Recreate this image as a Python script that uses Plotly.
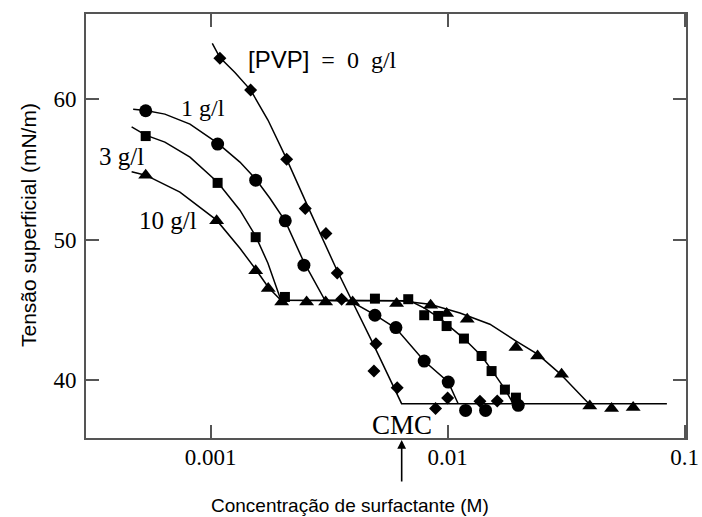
import math
import plotly.graph_objects as go

# ---------------- data ----------------
# measured points, [PVP] = 0 g/l (diamonds)
pvp0_x = [0.001094, 0.001475, 0.002093, 0.002507, 0.003066, 0.003421, 0.003571,
          0.004984, 0.004887, 0.006127, 0.008897, 0.0100, 0.01369, 0.01620]
pvp0_y = [62.90, 60.64, 55.73, 52.22, 50.44, 47.64, 45.77,
          42.61, 40.66, 39.48, 37.99, 38.74, 38.51, 38.53]

# 1 g/l (circles)
pvp1_x = [0.000532, 0.001070, 0.001549, 0.002065, 0.002475, 0.004935, 0.006051,
          0.007966, 0.01006, 0.01191, 0.01446, 0.01986]
pvp1_y = [59.17, 56.80, 54.23, 51.34, 48.19, 44.63, 43.75,
          41.37, 39.88, 37.86, 37.86, 38.22]

# 3 g/l (squares)
pvp3_x = [0.000532, 0.001070, 0.001549, 0.002058, 0.004935, 0.006821, 0.007966,
          0.009126, 0.009903, 0.01172, 0.01391, 0.01533, 0.01745, 0.01942]
pvp3_y = [57.37, 54.04, 50.18, 45.93, 45.81, 45.77, 44.63,
          44.58, 43.86, 42.97, 41.73, 40.66, 39.34, 38.77]

# 10 g/l (triangles)
pvp10_x = [0.000532, 0.001060, 0.001549, 0.001750, 0.001994, 0.002541, 0.003057,
           0.003973, 0.006091, 0.008479, 0.009903, 0.01210, 0.01942, 0.02397,
           0.03027, 0.03981, 0.04920, 0.06068]
pvp10_y = [54.59, 51.34, 47.80, 46.53, 45.57, 45.57, 45.57,
           45.57, 45.46, 45.34, 44.75, 44.34, 42.33, 41.73,
           40.43, 38.17, 37.99, 38.06]

# guide curves
fit0_x = [0.001016, 0.001094, 0.001266, 0.001475, 0.001745, 0.002093, 0.002625,
          0.003412, 0.004840, 0.006395, 0.08421]
fit0_y = [63.96, 62.95, 61.89, 60.64, 58.51, 55.73, 52.03,
          47.83, 42.63, 38.34, 38.34]

fit1_x = [0.000471, 0.000532, 0.000641, 0.000818, 0.001070, 0.001329, 0.001549,
          0.001779, 0.002065, 0.002475, 0.003037, 0.003871, 0.004935, 0.006052,
          0.007966, 0.010058, 0.01108]
fit1_y = [59.27, 59.18, 58.93, 58.22, 56.87, 55.52, 54.31,
          52.95, 51.32, 48.40, 45.69, 45.66, 44.66, 43.70,
          41.37, 39.88, 38.34]

fit3_x = [0.000464, 0.000532, 0.000641, 0.000818, 0.001070, 0.001329, 0.001549,
          0.001745, 0.001980, 0.006933, 0.008020, 0.009280, 0.01172, 0.01391,
          0.01538, 0.01745, 0.01892]
fit3_y = [58.03, 57.44, 56.94, 55.87, 54.09, 52.10, 50.25,
          48.33, 45.69, 45.66, 45.12, 44.41, 42.97, 41.73,
          40.71, 39.38, 38.34]

fit10_x = [0.000464, 0.000532, 0.000742, 0.001060, 0.001329, 0.001549, 0.001750,
           0.001980, 0.006291, 0.008422, 0.01127, 0.01508, 0.01923, 0.02404,
           0.02978, 0.03947]
fit10_y = [54.83, 54.59, 53.38, 51.39, 49.39, 47.90, 46.62,
           45.69, 45.66, 45.41, 44.79, 43.99, 42.85, 41.85,
           40.48, 38.34]

cmc = 0.0064
x_tick_vals = [0.001, 0.01, 0.1]
x_tick_text = ["0.001", "0.01", "0.1"]
y_tick_vals = [40, 50, 60]
y_tick_text = ["40", "50", "60"]

# ---------------- figure ----------------
SERIF = "Liberation Serif, Times New Roman, serif"
SANS = "Liberation Sans, Arial, sans-serif"
FRAME = "#555555"
NB = "\u00a0"

fig = go.Figure()

for fx, fy in [(fit0_x, fit0_y), (fit1_x, fit1_y), (fit3_x, fit3_y), (fit10_x, fit10_y)]:
    fig.add_trace(go.Scatter(x=fx, y=fy, mode="lines", line=dict(color="black", width=1.5),
                             showlegend=False, hoverinfo="skip"))

fig.add_trace(go.Scatter(x=pvp0_x, y=pvp0_y, mode="markers", name="0 g/l",
                         marker=dict(symbol="diamond", size=10, color="black")))
fig.add_trace(go.Scatter(x=pvp1_x, y=pvp1_y, mode="markers", name="1 g/l",
                         marker=dict(symbol="circle", size=13, color="black")))
fig.add_trace(go.Scatter(x=pvp3_x, y=pvp3_y, mode="markers", name="3 g/l",
                         marker=dict(symbol="square", size=10, color="black")))
fig.add_trace(go.Scatter(x=pvp10_x, y=pvp10_y, mode="markers", name="10 g/l",
                         marker=dict(symbol="triangle-up", size=13, color="black")))

# plot area in page pixels: x 86..686, y 14..438
def px(xp):
    return (xp - 86) / 600.0

def py(yp):
    return (438 - yp) / 424.0

annotations = [
    dict(x=px(245.7), y=62.78, xref="paper", yref="y", showarrow=False, xanchor="left",
         text='<span style="font-family:Liberation Sans">[PVP]</span>' + NB + " =" + NB + " 0" + NB + " g/l",
         font=dict(family=SERIF, size=24, color="black")),
    dict(x=px(202.5), y=59.36, xref="paper", yref="y", showarrow=False, xanchor="center",
         text="1 g/l", font=dict(family=SERIF, size=24, color="black")),
    dict(x=px(121), y=55.89, xref="paper", yref="y", showarrow=False, xanchor="center",
         text="3 g/l", font=dict(family=SERIF, size=25, color="black")),
    dict(x=px(167.5), y=51.39, xref="paper", yref="y", showarrow=False, xanchor="center",
         text="10 g/l", font=dict(family=SERIF, size=25, color="black")),
    dict(x=math.log10(cmc), y=36.80, xref="x", yref="y", showarrow=False, xanchor="center",
         text="CMC", font=dict(family=SERIF, size=27, color="black")),
    # CMC arrow below the axis
    dict(x=math.log10(cmc), y=py(440), xref="x", yref="paper", text="", showarrow=True,
         ax=0, ay=43, axref="pixel", ayref="pixel", arrowhead=2, arrowsize=1.1,
         arrowwidth=1.6, arrowcolor="black", standoff=0, startstandoff=0,
         font=dict(size=1)),
    # axis titles
    dict(x=px(350), y=py(505), xref="paper", yref="paper", showarrow=False,
         xanchor="center", yanchor="middle",
         text="Concentração de surfactante (M)", font=dict(family=SANS, size=19, color="black")),
    dict(x=px(28), y=py(225), xref="paper", yref="paper", showarrow=False,
         xanchor="center", yanchor="middle",
         text="Tensão superficial (mN/m)", textangle=-90, font=dict(family=SANS, size=21, color="black")),
]

fig.update_layout(
    width=702, height=517,
    margin=dict(l=86, r=16, t=14, b=79, autoexpand=False),
    paper_bgcolor="white", plot_bgcolor="white",
    showlegend=False,
    annotations=annotations,
)
fig.update_xaxes(type="log", range=[-3.526, -0.994], showgrid=False, zeroline=False,
                 showline=True, linecolor=FRAME, linewidth=2, mirror="ticks",
                 ticks="inside", ticklen=13, tickwidth=1.5, tickcolor=FRAME,
                 tickvals=x_tick_vals, ticktext=x_tick_text, automargin=False,
                 ticklabelstandoff=-3,
                 tickfont=dict(family=SERIF, size=23, color="black"))
fig.update_yaxes(range=[35.9, 66.05], showgrid=False, zeroline=False,
                 showline=True, linecolor=FRAME, linewidth=2, mirror="ticks",
                 ticks="inside", ticklen=13, tickwidth=1.5, tickcolor=FRAME,
                 tickvals=y_tick_vals, ticktext=y_tick_text, automargin=False,
                 ticklabelstandoff=3,
                 tickfont=dict(family=SERIF, size=23, color="black"))

# remove the browser's default page margin so the figure fills the 702x517 window
fig.write_html("out.html",
               config={"displayModeBar": False},
               post_script="document.body.style.margin='0';document.body.style.overflow='hidden';")
